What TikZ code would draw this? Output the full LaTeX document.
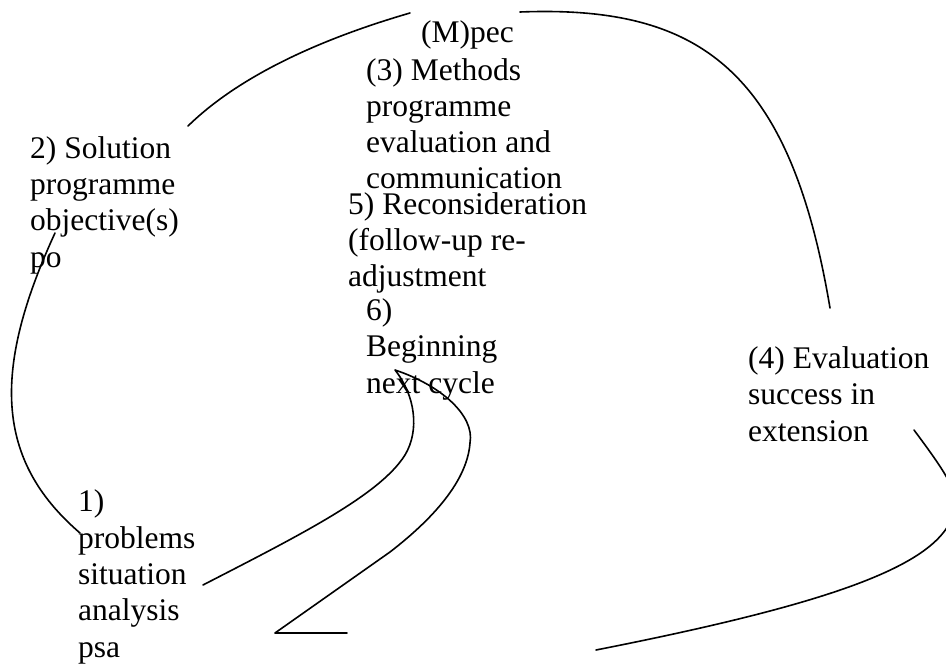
\documentclass[tikz,border=0pt]{standalone}
\usepackage{fontspec}
\setmainfont{Liberation Serif}
\begin{document}
\begin{tikzpicture}[x=1pt,y=-1pt,
  label/.style={anchor=base west,inner sep=0pt,align=left,
    font=\rmfamily\fontsize{31.5}{36.3}\selectfont},
  loop/.style={line width=1.6pt,line cap=round,line join=round}]
\useasboundingbox (0,0) rectangle (946,666);
\clip (0,0) rectangle (946,666);

% stage labels (placed by the baseline of their last line)
\node[label] (mpec)  at (421,43)  {(M)pec};
\node[label] (meth)  at (366,189) {(3) Methods\\programme\\evaluation and\\communication};
\node[label] (recon) at (348,287) {5) Reconsideration\\(follow-up re-\\adjustment};
\node[label] (next)  at (366,393) {6)\\Beginning\\next cycle};
\node[label] (sol)   at (30,267)  {2) Solution\\programme\\objective(s)\\po};
\node[label] (psa)   at (78,657)  {1)\\problems\\situation\\analysis\\psa};
\node[label] (eval)  at (748,441) {(4) Evaluation\\success in\\extension};

% end points of the cycle strokes
\coordinate (solTop)   at (188,126);
\coordinate (mpecL)    at (410,13);
\coordinate (mpecR)    at (520,12);
\coordinate (evalTop)  at (830,308);
\coordinate (solLow)   at (55,233);
\coordinate (psaTop)   at (80,533);
\coordinate (psaRight) at (203,585);
\coordinate (nextTip)  at (395,370);
\coordinate (hookA)    at (405,455);
\coordinate (hookB)    at (470,443);
\coordinate (hookC)    at (390,552);
\coordinate (cornerL)  at (275,633);
\coordinate (cornerR)  at (347,633);
\coordinate (evalLow)  at (914,430);
\coordinate (bulge)    at (955,505);
\coordinate (tailEnd)  at (596,650);

% 2 -> 3
\draw[loop] (solTop) .. controls (230,85) and (300,45) .. (mpecL);
% 3 -> 4
\draw[loop] (mpecR) .. controls (700,5) and (790,70) .. (evalTop);
% 2 -> 1
\draw[loop] (solLow) .. controls (-8,370) and (-5,460) .. (psaTop);
% 1 -> 6 and back down
\draw[loop] (psaRight) .. controls (300,535) and (380,495) .. (hookA)
  .. controls (420,430) and (415,395) .. (nextTip)
  .. controls (440,385) and (475,415) .. (hookB)
  .. controls (467,485) and (425,525) .. (hookC)
  -- (cornerL) -- (cornerR);
% 4 -> bottom sweep
\draw[loop] (evalLow) .. controls (940,465) and (958,490) .. (bulge)
  .. controls (950,560) and (850,600) .. (tailEnd);
\end{tikzpicture}
\end{document}
